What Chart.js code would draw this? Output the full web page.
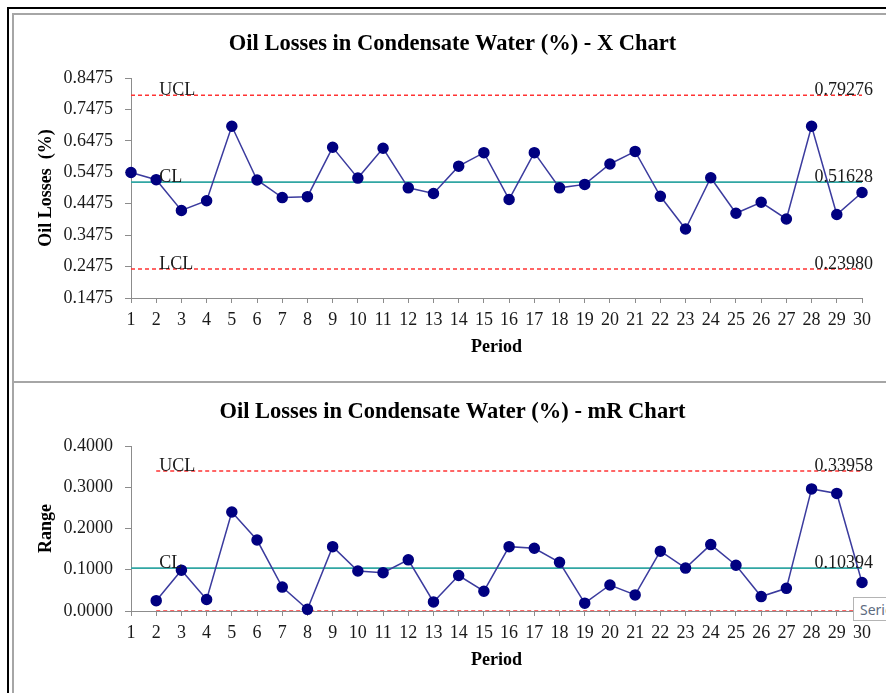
<!DOCTYPE html>
<html>
<head>
<meta charset="utf-8">
<script src="https://cdn.jsdelivr.net/npm/chart.js@4"></script>
<style>
  html, body { margin: 0; padding: 0; background: #fff; overflow: hidden; }
  body { width: 886px; height: 693px; position: relative; }
  #marcoNegro { position: absolute; left: 7px; top: 7px; right: 0; bottom: 0; border-top: 2px solid #000; border-left: 2px solid #000; }
  #marcoGris { position: absolute; left: 12px; top: 13px; right: 0; bottom: 0; border-top: 2px solid #a6a6a6; border-left: 2px solid #a6a6a6; }
  #divisor { position: absolute; left: 14px; top: 381px; right: 0; height: 2px; background: #a6a6a6; }
  #graficoX { position: absolute; left: 13px; top: 14px; }
  #graficoR { position: absolute; left: 13px; top: 383px; }
  #aviso { position: absolute; left: 853px; top: 597px; width: 60px; height: 24px; border: 1px solid #b4b4b4; background: #fff;
           font: 14px "Noto Sans", sans-serif; color: #5d6b80; line-height: 24px; padding-left: 6px; box-sizing: border-box; }
</style>
</head>
<body>
<div id="marcoNegro"></div>
<div id="marcoGris"></div>
<div id="divisor"></div>
<canvas id="graficoX" width="873" height="368"></canvas>
<canvas id="graficoR" width="873" height="310"></canvas>
<div id="aviso">Series</div>
<script>
// Datos
const periodos = [1, 2, 3, 4, 5, 6, 7, 8, 9, 10, 11, 12, 13, 14, 15, 16, 17, 18, 19, 20, 21, 22, 23, 24, 25, 26, 27, 28, 29, 30];
const perdidas = [0.547, 0.524, 0.426, 0.457, 0.694, 0.523, 0.467, 0.470, 0.627, 0.529,
                  0.624, 0.498, 0.480, 0.567, 0.610, 0.461, 0.610, 0.498, 0.509, 0.574,
                  0.614, 0.471, 0.367, 0.530, 0.417, 0.452, 0.399, 0.694, 0.413, 0.483];
// rango móvil: empieza en el periodo 2
const rangos = [0.025, 0.099, 0.028, 0.240, 0.172, 0.058, 0.004, 0.156, 0.097,
                0.093, 0.124, 0.022, 0.086, 0.048, 0.156, 0.152, 0.118, 0.019, 0.063,
                0.039, 0.145, 0.104, 0.161, 0.111, 0.035, 0.055, 0.296, 0.285, 0.069];

const ticksPerdidas = [0.1475, 0.2475, 0.3475, 0.4475, 0.5475, 0.6475, 0.7475, 0.8475];
const ticksRangos = [0.0, 0.1, 0.2, 0.3, 0.4];

const limitesX = { ucl: 0.79276, cl: 0.51628, lcl: 0.23980 };
const limitesR = { ucl: 0.33958, cl: 0.10394, lcl: 0.0 };

Chart.defaults.font.family = "'Liberation Serif', 'Times New Roman', serif";
Chart.defaults.color = '#1a1a1a';

const colorEje = '#8c8c8c';

// etiquetas UCL / CL / LCL sobre las líneas de control
const etiquetasLimites = {
  id: 'etiquetasLimites',
  afterDatasetsDraw(chart, args, opts) {
    const { ctx, scales: { x, y } } = chart;
    ctx.save();
    ctx.font = "18px 'Liberation Serif', serif";
    ctx.fillStyle = '#1a1a1a';
    ctx.textBaseline = 'alphabetic';
    opts.lineas.forEach(l => {
      const py = y.getPixelForValue(l.valor);
      if (l.nombre) {
        ctx.textAlign = 'left';
        ctx.fillText(l.nombre, x.getPixelForValue(periodos[1]) + 3, py);
      }
      if (l.texto) {
        ctx.textAlign = 'right';
        ctx.fillText(l.texto, x.right + 11, py);
      }
    });
    ctx.restore();
  }
};

function lineaControl(valor, desde, color, discontinua) {
  return {
    data: [{ x: desde, y: valor }, { x: periodos[periodos.length - 1], y: valor }],
    borderColor: color,
    borderWidth: discontinua ? 1.5 : 1.75,
    borderDash: discontinua ? [4, 3] : [],
    pointRadius: 0,
    fill: false
  };
}

function serie(valores, desde) {
  return {
    data: valores.map((v, i) => ({ x: periodos[i + desde], y: v })),
    borderColor: '#3b3b9e',
    borderWidth: 1.5,
    pointRadius: 5,
    pointBackgroundColor: '#000080',
    pointBorderColor: '#000080',
    clip: false,
    fill: false
  };
}

function opciones(titulo, tituloY, ticksY, altoEjeX, padPeriodo, padTitulo, lineas) {
  return {
    responsive: false,
    animation: false,
    layout: { padding: { left: 30, right: 24, top: 0, bottom: 0 } },
    plugins: {
      legend: { display: false },
      tooltip: { enabled: false },
      title: { display: true, text: titulo, color: '#000', font: { size: 22.5, weight: 'bold' }, padding: padTitulo },
      etiquetasLimites: { lineas: lineas }
    },
    scales: {
      x: {
        type: 'linear',
        min: periodos[0],
        max: periodos[periodos.length - 1],
        ticks: { stepSize: 1, autoSkip: false, maxRotation: 0, padding: 6, font: { size: 18 } },
        grid: { drawOnChartArea: false, tickLength: 5, color: colorEje },
        border: { color: colorEje },
        title: { display: true, text: 'Period', color: '#000', font: { size: 18, weight: 'bold' }, padding: { top: 0, bottom: padPeriodo } },
        afterFit: s => { s.height = altoEjeX; }
      },
      y: {
        min: ticksY[0],
        max: ticksY[ticksY.length - 1],
        afterBuildTicks: s => { s.ticks = ticksY.map(v => ({ value: v })); },
        ticks: { padding: 12, font: { size: 18 }, callback: v => Number(v).toFixed(4) },
        grid: { drawOnChartArea: false, tickLength: 6, color: colorEje },
        border: { color: colorEje },
        title: { display: true, text: tituloY, color: '#000', font: { size: 18, weight: 'bold' }, padding: { top: -7, bottom: 0 } },
        afterFit: s => { s.width = 88; }
      }
    }
  };
}

// Gráfico X
const ctxX = document.getElementById('graficoX').getContext('2d');
new Chart(ctxX, {
  type: 'line',
  data: {
    datasets: [
      serie(perdidas, 0),
      lineaControl(limitesX.cl, periodos[0], '#31a6a3', false),
      lineaControl(limitesX.ucl, periodos[0], '#ff3333', true),
      lineaControl(limitesX.lcl, periodos[0], '#ff3333', true)
    ]
  },
  options: opciones('Oil Losses in Condensate Water (%) - X Chart', 'Oil Losses  (%)', ticksPerdidas, 84, 24,
    { top: 17, bottom: 20 },
    [
      { nombre: 'UCL', texto: limitesX.ucl.toFixed(5), valor: limitesX.ucl },
      { nombre: 'CL', texto: limitesX.cl.toFixed(5), valor: limitesX.cl },
      { nombre: 'LCL', texto: limitesX.lcl.toFixed(5), valor: limitesX.lcl }
    ]),
  plugins: [etiquetasLimites]
});

// Gráfico mR
const ctxR = document.getElementById('graficoR').getContext('2d');
new Chart(ctxR, {
  type: 'line',
  data: {
    datasets: [
      serie(rangos, 1),
      lineaControl(limitesR.cl, periodos[0], '#31a6a3', false),
      lineaControl(limitesR.ucl, periodos[1], '#ff3333', true),
      lineaControl(limitesR.lcl, periodos[1], '#ff3333', true)
    ]
  },
  options: opciones('Oil Losses in Condensate Water (%) - mR Chart', 'Range', ticksRangos, 82, 22,
    { top: 16, bottom: 20 },
    [
      { nombre: 'UCL', texto: limitesR.ucl.toFixed(5), valor: limitesR.ucl },
      { nombre: 'CL', texto: limitesR.cl.toFixed(5), valor: limitesR.cl }
    ]),
  plugins: [etiquetasLimites]
});
</script>
</body>
</html>
